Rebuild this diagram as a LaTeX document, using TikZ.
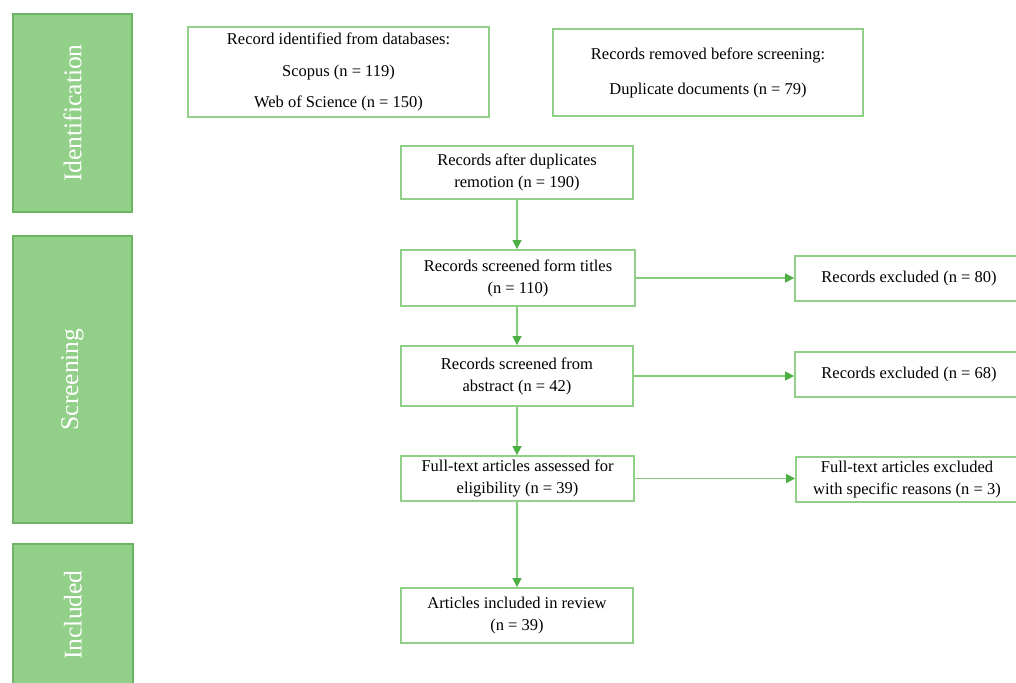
\documentclass[tikz,border=0pt]{standalone}
\usepackage{fontspec}
\setmainfont{Liberation Serif}
\usetikzlibrary{arrows.meta}
\definecolor{barfill}{HTML}{92CF88}
\definecolor{bardraw}{HTML}{6DB464}
\definecolor{boxdraw}{HTML}{90D088}
\definecolor{arrline}{HTML}{84CC7B}
\definecolor{arrhead}{HTML}{4CAF44}
\tikzset{
  x=1pt,y=-1pt,
  phase/.style={draw=bardraw,fill=barfill,line width=1.2pt,inner sep=0pt},
  phasetext/.style={text=white,rotate=90,font=\fontsize{25.5}{28}\selectfont},
  stepbox/.style={draw=boxdraw,line width=1.8pt,fill=white,align=center,inner sep=0pt,
    font=\fontsize{16.5}{22}\selectfont},
  conn/.style={draw=arrline,line width=1.5pt,-{Triangle[length=9pt,width=9pt,fill=arrhead,color=arrhead]}}
}
\begin{document}
\begin{tikzpicture}
\useasboundingbox (0,0) rectangle (1016,682);
\begin{scope}
\clip (0,0) rectangle (1016,682);
% phase bars
\node[phase,minimum width=119pt,minimum height=198pt] (pid) at (72.5,113) {};
\node[phasetext] (tid) at (pid.center) {Identification};
\node[phase,minimum width=119pt,minimum height=287pt] (psc) at (72.5,379.5) {};
\node[phasetext] (tsc) at (psc.center) {Screening};
\node[phase,minimum width=120pt,minimum height=150pt] (pin) at (73,619) {};
\node[phasetext] (tin) at (73,615) {Included};
% boxes
\node[stepbox,minimum width=301pt,minimum height=90pt,font=\fontsize{16.5}{31.5}\selectfont] (db) at (338.5,72)
  {Record identified from databases:\\Scopus (n = 119)\\Web of Science (n = 150)};
\node[stepbox,minimum width=310pt,minimum height=87pt,font=\fontsize{16.5}{35}\selectfont] (rm) at (708,72.5)
  {Records removed before screening:\\Duplicate documents (n = 79)};
\node[stepbox,minimum width=232pt,minimum height=53pt] (dup) at (517,172.5)
  {Records after duplicates\\remotion (n = 190)};
\node[stepbox,minimum width=234pt,minimum height=56pt] (tit) at (518,278)
  {Records screened form titles\\(n = 110)};
\node[stepbox,minimum width=232pt,minimum height=60pt] (abs) at (517,376)
  {Records screened from\\abstract (n = 42)};
\node[stepbox,minimum width=233pt,minimum height=45pt] (full) at (517.5,478.5)
  {Full-text articles assessed for\\eligibility (n = 39)};
\node[stepbox,minimum width=232pt,minimum height=55pt] (inc) at (517,615.5)
  {Articles included in review\\(n = 39)};
% excluded boxes (cut at right edge)
\node[stepbox,minimum width=228pt,minimum height=45pt] (ex1) at (909,278.5)
  {Records excluded (n = 80)};
\node[stepbox,minimum width=228pt,minimum height=45pt] (ex2) at (909,374.5)
  {Records excluded (n = 68)};
\node[stepbox,minimum width=222pt,minimum height=45pt] (ex3) at (907,479.5)
  {Full-text articles excluded\\with specific reasons (n = 3)};
% connectors
\draw[conn] (dup.south) -- (dup.south |- tit.north);
\draw[conn] (dup.south |- tit.south) -- (dup.south |- abs.north);
\draw[conn] (abs.south) -- (full.north -| abs.south);
\draw[conn] (abs.south |- full.south) -- (inc.north);
\draw[conn] (tit.east) -- (tit.east -| ex1.west);
\draw[conn] (abs.east) -- (abs.east -| ex2.west);
\draw[conn] (full.east) -- (full.east -| ex3.west);
\end{scope}
\end{tikzpicture}
\end{document}
